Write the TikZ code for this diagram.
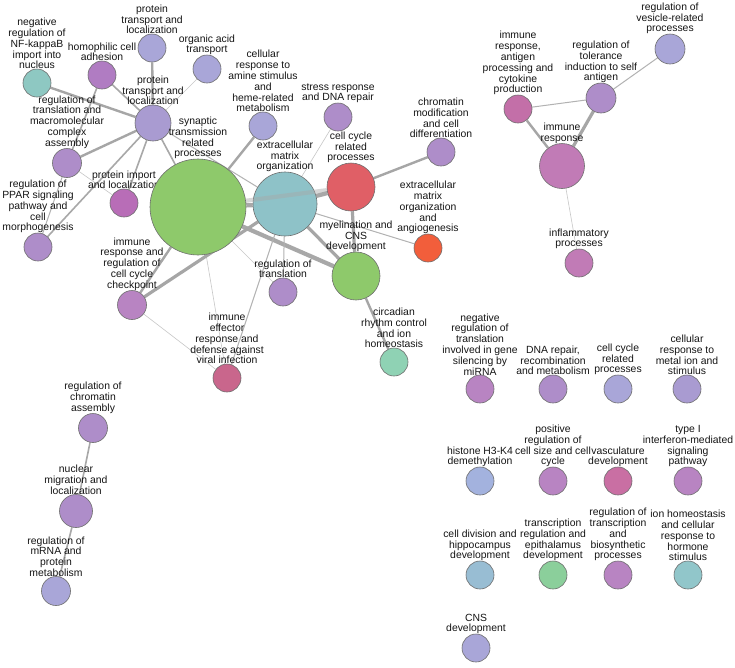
\documentclass[tikz,border=0pt]{standalone}
\usepackage{fontspec}
\newfontfamily\lblfamily{Liberation Sans}
\newcommand\lblfont{\lblfamily\fontsize{10.4}{10.8}\selectfont}
\definecolor{txt}{HTML}{151515}
\definecolor{ndborder}{HTML}{6E6E6E}
\definecolor{cLav}{HTML}{A9A6D8}
\definecolor{cHub}{HTML}{A99BD1}
\definecolor{cPurp}{HTML}{AE8DC9}
\definecolor{cPinkP}{HTML}{B884C2}
\definecolor{cProtImp}{HTML}{B86DB7}
\definecolor{cHomo}{HTML}{B07CC2}
\definecolor{cGreen}{HTML}{8EC96B}
\definecolor{cTeal}{HTML}{8EC2C8}
\definecolor{cRed}{HTML}{E05F66}
\definecolor{cOrange}{HTML}{F25E3B}
\definecolor{cNfkb}{HTML}{8EC8C2}
\definecolor{cCirc}{HTML}{8FD2B4}
\definecolor{cImmEff}{HTML}{C9668C}
\definecolor{cAntigen}{HTML}{C36FA8}
\definecolor{cImmResp}{HTML}{C17BB6}
\definecolor{cHistone}{HTML}{A3B2DE}
\definecolor{cVasc}{HTML}{C96FA3}
\definecolor{cCellDiv}{HTML}{98BDD3}
\definecolor{cEpith}{HTML}{8BCF9B}
\definecolor{cIonHom}{HTML}{91C6CA}
\pgfdeclarelayer{edges}
\pgfdeclarelayer{front}
\pgfsetlayers{edges,main,front}
\tikzset{
  nd/.style 2 args={circle, draw=ndborder, line width=0.6pt, fill=#2, minimum size=#1pt, inner sep=0pt},
  lbl/.style={font=\lblfont, align=center, inner sep=1pt, text=txt},
  every label/.style={lbl},
  label distance=-1.5pt,
  ethin/.style={line width=0.6pt, draw=black!22},
  elite/.style={line width=1pt, draw=black!30},
  emed/.style={line width=1.6pt, draw=black!34},
  ewide/.style={line width=2.4pt, draw=black!35},
  ethick/.style={line width=3.2pt, draw=black!35},
  ehuge/.style={line width=4.2pt, draw=black!34},
}
\begin{document}
\begin{tikzpicture}[x=1pt,y=-1pt]
\useasboundingbox (0,0) rectangle (735,667);
\begin{pgfonlayer}{edges}
\fill[white] (0,0) rectangle (735,667);
\end{pgfonlayer}

% main cluster
\node[nd={28}{cNfkb}, label={above:{negative\\regulation of\\NF-kappaB\\import into\\nucleus}}] (nfkb) at (37,83) {};
\node[nd={28}{cHomo}, label={above:{homophilic cell\\adhesion}}] (homo) at (102,75) {};
\node[nd={28}{cLav}, label={above:{protein\\transport and\\localization}}] (ptA) at (152,48) {};
\node[nd={28}{cLav}, label={above:{organic acid\\transport}}] (organic) at (207,69) {};
\node[nd={36}{cHub}, label={above:{protein\\transport and\\localization}}] (hub) at (153,123) {};
\node[nd={29}{cPurp}, label={above:{regulation of\\translation and\\macromolecular\\complex\\assembly}}] (regtrans) at (67,163) {};
\node[nd={28}{cProtImp}, label={above:{protein import\\and localization}}] (protimp) at (124,203) {};
\node[nd={28}{cPurp}, label={above:{regulation of\\PPAR signaling\\pathway and\\cell\\morphogenesis}}] (ppar) at (38,247) {};
\node[nd={96}{cGreen}, label={above:{synaptic\\transmission\\related\\processes}}] (syn) at (198,207) {};
\node[nd={64}{cTeal}, label={above:{extracellular\\matrix\\organization}}] (ecm) at (285,204) {};
\node[nd={28}{cLav}, label={above:{cellular\\response to\\amine stimulus\\and\\heme-related\\metabolism}}] (amine) at (263,126) {};
\node[nd={28}{cPurp}, label={above:{stress response\\and DNA repair}}] (stress) at (338,117) {};
\node[nd={48}{cRed}, label={above:{cell cycle\\related\\processes}}] (ccA) at (351,187) {};
\node[nd={28}{cPurp}, label={above:{chromatin\\modification\\and cell\\differentiation}}] (chromat) at (441,152) {};
\node[nd={28}{cOrange}, label={above:{extracellular\\matrix\\organization\\and\\angiogenesis}}] (angio) at (428,248) {};
\node[nd={48}{cGreen}, label={above:{myelination and\\CNS\\development}}] (myelin) at (356,276) {};
\node[nd={28}{cPurp}, label={above:{regulation of\\translation}}] (regtl) at (283,292) {};
\node[nd={28}{cCirc}, label={above:{circadian\\rhythm control\\and ion\\homeostasis}}] (circ) at (394,362) {};
\node[nd={29}{cPinkP}, label={above:{immune\\response and\\regulation of\\cell cycle\\checkpoint}}] (immcc) at (132,305) {};
\node[nd={28}{cImmEff}, label={above:{immune\\effector\\response and\\defense against\\viral infection}}] (immeff) at (227,378) {};

% right cluster
\node[nd={30}{cLav}, label={above:{regulation of\\vesicle-related\\processes}}] (vesicle) at (670,49) {};
\node[nd={30}{cPurp}, label={above:{regulation of\\tolerance\\induction to self\\antigen}}] (toler) at (601,98) {};
\node[nd={28}{cAntigen}, label={above:{immune\\response,\\antigen\\processing and\\cytokine\\production}}] (antigen) at (518,109) {};
\node[nd={45}{cImmResp}, label={above:{immune\\response}}] (immresp) at (562,166) {};
\node[nd={28}{cImmResp}, label={above:{inflammatory\\processes}}] (inflam) at (579,263) {};

% lower-left cluster
\node[nd={29}{cPurp}, label={above:{regulation of\\chromatin\\assembly}}] (chromasm) at (93,428) {};
\node[nd={33}{cPurp}, label={above:{nuclear\\migration and\\localization}}] (nuclear) at (76,511) {};
\node[nd={29}{cLav}, label={above:{regulation of\\mRNA and\\protein\\metabolism}}] (mrna) at (56,591) {};

% isolated nodes
\node[nd={28}{cPinkP}, label={above:{negative\\regulation of\\translation\\involved in gene\\silencing by\\miRNA}}] (mirna) at (480,389) {};
\node[nd={28}{cPurp}, label={above:{DNA repair,\\recombination\\and metabolism}}] (dnarep) at (553,389) {};
\node[nd={28}{cLav}, label={above:{cell cycle\\related\\processes}}] (ccB) at (618,389) {};
\node[nd={28}{cHub}, label={above:{cellular\\response to\\metal ion and\\stimulus}}] (metal) at (687,389) {};
\node[nd={28}{cHistone}, label={above:{histone H3-K4\\demethylation}}] (histone) at (480,481) {};
\node[nd={28}{cPinkP}, label={above:{positive\\regulation of\\cell size and cell\\cycle}}] (cellsize) at (553,481) {};
\node[nd={28}{cVasc}, label={above:{vasculature\\development}}] (vasc) at (618,481) {};
\node[nd={28}{cPinkP}, label={above:{type I\\interferon-mediated\\signaling\\pathway}}] (ifn) at (688,481) {};
\node[nd={28}{cCellDiv}, label={above:{cell division and\\hippocampus\\development}}] (celldiv) at (480,575) {};
\node[nd={28}{cEpith}, label={above:{transcription\\regulation and\\epithalamus\\development}}] (epith) at (553,575) {};
\node[nd={28}{cPinkP}, label={above:{regulation of\\transcription\\and\\biosynthetic\\processes}}] (transcr) at (618,575) {};
\node[nd={28}{cIonHom}, label={above:{ion homeostasis\\and cellular\\response to\\hormone\\stimulus}}] (ionhom) at (688,575) {};
\node[nd={28}{cLav}, label={above:{CNS\\development}}] (cnsdev) at (476,648) {};

\begin{pgfonlayer}{edges}
\draw[ewide] (hub) -- (nfkb);
\draw[emed] (hub) -- (homo);
\draw[ewide] (hub) -- (ptA);
\draw[ethin] (hub) -- (organic);
\draw[ewide] (hub) -- (regtrans);
\draw[emed] (hub) -- (protimp);
\draw[emed] (hub) -- (ppar);
\draw[emed] (hub) -- (syn);
\draw[elite] (hub) -- (ecm);
\draw[emed] (homo) -- (regtrans);
\draw[elite] (regtrans) -- (ppar);
\draw[ethin] (regtrans) -- (protimp);
\draw[ewide] (syn) -- (amine);
\draw[ehuge] (syn) -- (ecm);
\draw[ehuge] (syn) -- (myelin);
\draw[ethin] (syn) -- (regtl);
\draw[ethin] (syn) -- (immeff);
\draw[ewide] (syn) -- (immcc);
\draw[ethick] (ecm) -- (immcc);
\draw[ethin] (ecm) -- (stress);
\draw[elite] (ecm) -- (regtl);
\draw[elite] (ecm) -- (immeff);
\draw[ethick] (ecm) -- (myelin);
\draw[ehuge] (ecm) -- (ccA);
\draw[elite] (ecm) -- (angio);
\draw[ethick] (ccA) -- (myelin);
\draw[ewide] (ccA) -- (chromat);
\draw[ewide] (myelin) -- (circ);
\draw[ethin] (immcc) -- (immeff);
\draw[elite] (antigen) -- (toler);
\draw[ewide] (antigen) -- (immresp);
\draw[ethick] (toler) -- (immresp);
\draw[elite] (toler) -- (vesicle);
\draw[ethin] (immresp) -- (inflam);
\draw[emed] (chromasm) -- (nuclear);
\draw[emed] (nuclear) -- (mrna);
\end{pgfonlayer}
\begin{pgfonlayer}{front}
\draw[ehuge, draw opacity=0.45] (syn) -- (ccA);
\end{pgfonlayer}
\end{tikzpicture}
\end{document}
